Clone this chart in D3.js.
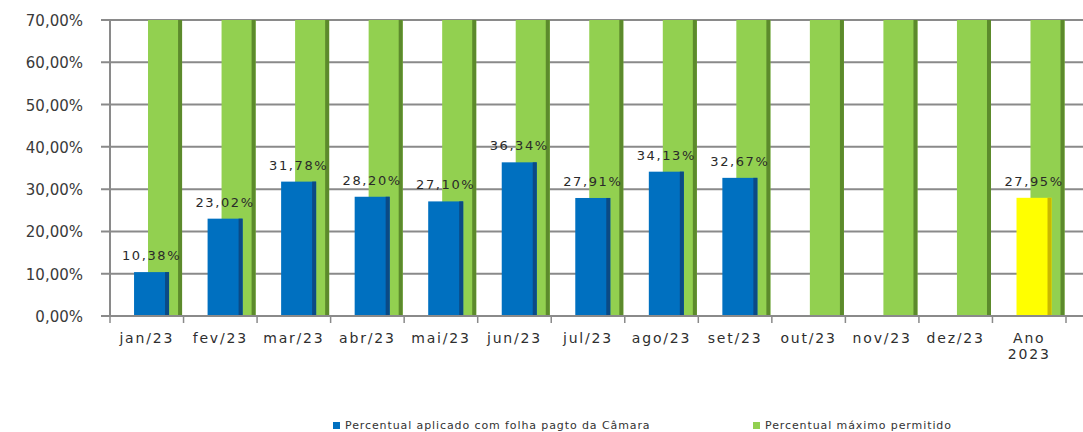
<!DOCTYPE html>
<html><head><meta charset="utf-8">
<script src="https://cdn.jsdelivr.net/npm/d3@7"></script>
<style>body{margin:0;background:#fff}svg{display:block}</style>
</head><body>
<svg id="c" width="1083" height="432"></svg>
<script>
const categories = ["jan/23","fev/23","mar/23","abr/23","mai/23","jun/23","jul/23","ago/23","set/23","out/23","nov/23","dez/23","Ano 2023"];
const aplicado = [10.38,23.02,31.78,28.20,27.10,36.34,27.91,34.13,32.67,null,null,null,27.95];
const maximo = [70,70,70,70,70,70,70,70,70,70,70,70,70];
const yTicks = [0,10,20,30,40,50,60,70];
const legendLabels = ["Percentual aplicado com folha pagto da Câmara","Percentual máximo permitido"];

const svg = d3.select("#c");
const x = d3.scaleBand().domain(categories).range([110,1066]).padding(0);
const y = d3.scaleLinear().domain([0,70]).range([316,20]);
const bw = x.bandwidth();
const fmt = v => v.toFixed(2).replace(".", ",") + "%";

// gridlines
svg.append("g").selectAll("line").data(yTicks).join("line")
  .attr("x1",101).attr("x2",1083).attr("y1",d=>y(d)).attr("y2",d=>y(d))
  .attr("stroke","#8a8a8a").attr("stroke-width",2);

// y labels
svg.append("g").selectAll("text").data(yTicks).join("text")
  .attr("x",83).attr("y",d=>y(d)+6).attr("text-anchor","end")
  .attr("font-family","DejaVu Sans").attr("font-size",15).attr("letter-spacing",0)
  .attr("fill","#3a3a3a").text(d=>fmt(d));

// green bars
const g = svg.append("g");
categories.forEach((c,i)=>{
  const x0 = x(c)+0.517*bw, w = 0.463*bw, yt = y(maximo[i]);
  g.append("rect").attr("x",x0).attr("y",yt).attr("width",w).attr("height",y(0)-yt).attr("fill","#92D050");
  g.append("rect").attr("x",x0+w-4).attr("y",yt).attr("width",4).attr("height",y(0)-yt).attr("fill","#5C8A2C");
});

// blue / yellow bars
const b = svg.append("g");
categories.forEach((c,i)=>{
  const v = aplicado[i];
  if(v==null) return;
  const last = i===categories.length-1;
  const x0 = x(c)+0.327*bw, w = 0.476*bw, yt = y(v);
  b.append("rect").attr("x",x0).attr("y",yt).attr("width",w).attr("height",y(0)-yt).attr("fill",last?"#FFFF00":"#0070C0");
  b.append("rect").attr("x",x0+w-4).attr("y",yt).attr("width",4).attr("height",y(0)-yt).attr("fill",last?"#C9B800":"#0B4A85");
  b.append("text").attr("x",x0+w/2).attr("y",yt-12).attr("text-anchor","middle")
    .attr("font-family","DejaVu Sans").attr("font-size",13).attr("letter-spacing",1.6)
    .attr("fill","#2a2a2a").text(fmt(v));
});

// axes lines
svg.append("line").attr("x1",110).attr("x2",110).attr("y1",20).attr("y2",316).attr("stroke","#8a8a8a").attr("stroke-width",2);
svg.append("line").attr("x1",101).attr("x2",1083).attr("y1",316).attr("y2",316).attr("stroke","#8a8a8a").attr("stroke-width",2);
svg.append("g").selectAll("line").data(categories.concat(["end"])).join("line")
  .attr("x1",(d,i)=>110+i*bw).attr("x2",(d,i)=>110+i*bw).attr("y1",316).attr("y2",323)
  .attr("stroke","#8a8a8a").attr("stroke-width",1.5);

// x labels
const xl = svg.append("g");
categories.forEach(c=>{
  const parts = c.split(" ");
  const t = xl.append("text").attr("text-anchor","middle")
    .attr("font-family","DejaVu Sans").attr("font-size",14).attr("letter-spacing",1.8).attr("fill","#2e2e2e");
  parts.forEach((p,j)=>{
    t.append("tspan").attr("x",x(c)+bw/2).attr("y",343+j*16).text(p);
  });
});

// legend
const lg = svg.append("g");
const lx = [333,753];
const lc = ["#0070C0","#92D050"];
legendLabels.forEach((l,i)=>{
  lg.append("rect").attr("x",lx[i]).attr("y",422).attr("width",7).attr("height",7).attr("fill",lc[i]);
  lg.append("text").attr("x",lx[i]+12).attr("y",429).attr("font-family","DejaVu Sans").attr("font-size",11)
    .attr("letter-spacing",0.9).attr("fill","#333").text(l);
});
</script>
</body></html>
